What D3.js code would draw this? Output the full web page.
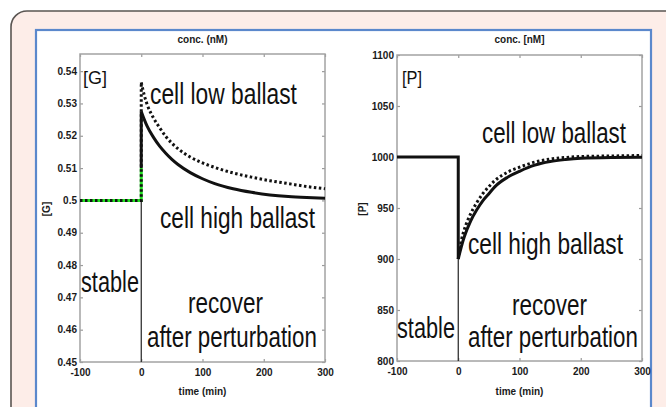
<!DOCTYPE html>
<html>
<head>
<meta charset="utf-8">
<script src="https://cdn.jsdelivr.net/npm/d3@7"></script>
<style>
  html, body { margin: 0; padding: 0; background: #ffffff; }
  svg { display: block; }
</style>
</head>
<body>
<svg id="chart" width="666" height="407"></svg>
<script>
// ---- shared time axis (min) ----
const timeTicks = [-100, 0, 100, 200, 300];
const timeTickLabels = ["-100", "0", "100", "200", "300"];

// ---- [G] panel ----
const gTicks = [0.45, 0.46, 0.47, 0.48, 0.49, 0.5, 0.51, 0.52, 0.53, 0.54];
const gTickLabels = ["0.45", "0.46", "0.47", "0.48", "0.49", "0.5", "0.51", "0.52", "0.53", "0.54"];
const gStableTime = [-100, 0, 0];
const gStableValue = [0.5, 0.5, 0.51];
const gRecoveryTime = [0, 5, 10, 20, 30, 40, 50, 60, 80, 100, 120, 150, 180, 210, 240, 270, 300];
const gLowBallast = [0.5365, 0.5325, 0.5295, 0.5255, 0.5225, 0.5198, 0.5177, 0.5160, 0.5134, 0.5116, 0.5102, 0.5085, 0.5072, 0.5061, 0.5052, 0.5043, 0.5036];
const gHighBallast = [0.5275, 0.5250, 0.5228, 0.5195, 0.5168, 0.5146, 0.5127, 0.5111, 0.5086, 0.5067, 0.5052, 0.5036, 0.5025, 0.5017, 0.5012, 0.5009, 0.5007];

// ---- [P] panel ----
const pTicks = [800, 850, 900, 950, 1000, 1050, 1100];
const pTickLabels = ["800", "850", "900", "950", "1000", "1050", "1100"];
const pStableTime = [-100, 0, 0];
const pStableValue = [1000, 1000, 900];
const pRecoveryTime = [0, 5, 10, 20, 30, 40, 50, 60, 80, 100, 125, 150, 175, 200, 250, 300];
const pLowBallast = [900, 918, 929, 944, 955, 964, 971, 977, 985, 990, 995, 998, 999.5, 1000.5, 1001, 1001.5];
const pHighBallast = [900, 912, 922, 937, 948, 957, 964, 971, 980, 986, 992, 995.5, 997.5, 998.8, 999.6, 999.8];

const svg = d3.select("#chart");

// page frame: rounded card with a white framed panel inside
svg.append("rect").attr("width", 666).attr("height", 407).attr("fill", "#ffffff");
svg.append("rect")
  .attr("x", 11).attr("y", 11).attr("width", 680).attr("height", 430)
  .attr("rx", 16).attr("ry", 16)
  .attr("fill", "#fdede8").attr("stroke", "#5a5552").attr("stroke-width", 1.6);
svg.append("rect")
  .attr("x", 36).attr("y", 30).attr("width", 615).attr("height", 400)
  .attr("fill", "#ffffff").attr("stroke", "#5b88cc").attr("stroke-width", 2.2);

const ANNOT_FONT = "'Liberation Sans', Arial, sans-serif";
const AXIS_FONT = "'Liberation Sans', Arial, sans-serif";

const panels = [
  {
    box: { left: 80, right: 325, top: 54, bottom: 362 },
    yDomain: [0.45, 0.5453], yTicks: gTicks, yTickLabels: gTickLabels,
    title: "conc. (nM)", yLabel: "[G]", yLabelX: 46,
    stableTime: gStableTime, stableValue: gStableValue,
    recTime: gRecoveryTime, low: gLowBallast, high: gHighBallast,
    green: true,
    tag: { text: "[G]", x: 83, y: 84, w: 24 },
    notes: [
      { text: "cell low ballast", x: 150, y: 104, w: 147 },
      { text: "cell high ballast", x: 160, y: 228, w: 155 },
      { text: "stable", x: 81, y: 292, w: 58 },
      { text: "recover", x: 188, y: 313, w: 75 },
      { text: "after perturbation", x: 147, y: 347, w: 170 }
    ]
  },
  {
    box: { left: 397, right: 642, top: 55, bottom: 361 },
    yDomain: [800, 1100], yTicks: pTicks, yTickLabels: pTickLabels,
    title: "conc. [nM]", yLabel: "[P]", yLabelX: 362,
    stableTime: pStableTime, stableValue: pStableValue,
    recTime: pRecoveryTime, low: pLowBallast, high: pHighBallast,
    green: false,
    tag: { text: "[P]", x: 402, y: 84, w: 20 },
    notes: [
      { text: "cell low ballast", x: 482, y: 143, w: 144 },
      { text: "cell high ballast", x: 468, y: 254, w: 155 },
      { text: "stable", x: 397, y: 338, w: 58 },
      { text: "recover", x: 512, y: 315, w: 75 },
      { text: "after perturbation", x: 468, y: 347, w: 170 }
    ]
  }
];

// squeeze a text horizontally to a given width, keeping its height
function condensed(parent, str, x, y, size, width) {
  const t = parent.append("text")
    .attr("font-family", ANNOT_FONT).attr("font-size", size).attr("fill", "#111")
    .text(str);
  const natural = t.node().getComputedTextLength() || width;
  t.attr("transform", `translate(${x},${y}) scale(${width / natural},1)`);
  return t;
}

panels.forEach(p => {
  const b = p.box;
  const x = d3.scaleLinear().domain([-100, 300]).range([b.left, b.right]);
  const y = d3.scaleLinear().domain(p.yDomain).range([b.bottom, b.top]);
  const g = svg.append("g");

  // plot area
  g.append("rect")
    .attr("x", b.left).attr("y", b.top)
    .attr("width", b.right - b.left).attr("height", b.bottom - b.top)
    .attr("fill", "#ffffff");

  // inward ticks on all four sides
  const styleAxis = sel => {
    sel.select(".domain").remove();
    sel.selectAll(".tick line").attr("stroke", "#9a9a9a").attr("stroke-width", 1.2);
    sel.selectAll(".tick text")
      .attr("font-family", AXIS_FONT).attr("font-weight", "bold")
      .attr("font-size", 10).attr("fill", "#1a1a1a");
  };
  g.append("g").attr("transform", `translate(0,${b.bottom})`)
    .call(d3.axisBottom(x).tickValues(timeTicks)
      .tickFormat((d, i) => timeTickLabels[i]).tickSizeInner(-3).tickSizeOuter(0).tickPadding(7))
    .call(styleAxis);
  g.append("g").attr("transform", `translate(0,${b.top})`)
    .call(d3.axisTop(x).tickValues(timeTicks).tickFormat("").tickSizeInner(-3).tickSizeOuter(0))
    .call(styleAxis);
  g.append("g").attr("transform", `translate(${b.left},0)`)
    .call(d3.axisLeft(y).tickValues(p.yTicks)
      .tickFormat((d, i) => p.yTickLabels[i]).tickSizeInner(-3).tickSizeOuter(0).tickPadding(3))
    .call(styleAxis);
  g.append("g").attr("transform", `translate(${b.right},0)`)
    .call(d3.axisRight(y).tickValues(p.yTicks).tickFormat("").tickSizeInner(-3).tickSizeOuter(0))
    .call(styleAxis);

  // axes box
  g.append("rect")
    .attr("x", b.left).attr("y", b.top)
    .attr("width", b.right - b.left).attr("height", b.bottom - b.top)
    .attr("fill", "none").attr("stroke", "#a3a3a3").attr("stroke-width", 1.5);

  // title and axis labels
  g.append("text").attr("x", (b.left + b.right) / 2).attr("y", 43)
    .attr("text-anchor", "middle").attr("font-family", AXIS_FONT)
    .attr("font-weight", "bold").attr("font-size", 10).attr("fill", "#1a1a1a")
    .text(p.title);
  g.append("text").attr("x", (b.left + b.right) / 2).attr("y", 395)
    .attr("text-anchor", "middle").attr("font-family", AXIS_FONT)
    .attr("font-weight", "bold").attr("font-size", 10).attr("fill", "#1a1a1a")
    .text("time (min)");
  g.append("text")
    .attr("transform", `translate(${p.yLabelX},${(b.top + b.bottom) / 2 + 1}) rotate(-90)`)
    .attr("text-anchor", "middle").attr("dy", "0.35em").attr("font-family", AXIS_FONT)
    .attr("font-weight", "bold").attr("font-size", 10).attr("fill", "#1a1a1a")
    .text(p.yLabel);

  const stable = p.stableTime.map((t, i) => [t, p.stableValue[i]]);
  const lowRec = p.recTime.map((t, i) => [t, p.low[i]]);
  const highRec = p.recTime.map((t, i) => [t, p.high[i]]);
  const lineLin = d3.line().x(d => x(d[0])).y(d => y(d[1]));
  const lineSmooth = d3.line().x(d => x(d[0])).y(d => y(d[1])).curve(d3.curveMonotoneX);

  // separator between stable and recovery phases (t = 0)
  g.append("path")
    .attr("d", lineLin([[0, p.yDomain[0]], [0, p.stableValue[1]]]))
    .attr("fill", "none").attr("stroke", "#222").attr("stroke-width", 1.2);

  if (p.green) {
    // stable level (green) with the low-ballast dotted trace over it
    g.append("path").attr("d", lineLin(stable))
      .attr("fill", "none").attr("stroke", "#1fe01f").attr("stroke-width", 3);
    g.append("path")
      .attr("d", lineLin([[p.stableTime[0], p.stableValue[0]], [0, p.stableValue[1]], [0, p.low[0]]]))
      .attr("fill", "none").attr("stroke", "#111").attr("stroke-width", 3)
      .attr("stroke-dasharray", "2.5,2.5");
    g.append("path").attr("d", lineSmooth(lowRec))
      .attr("fill", "none").attr("stroke", "#111").attr("stroke-width", 3)
      .attr("stroke-dasharray", "2.5,2.5");
    // high-ballast jump and decay
    g.append("path").attr("d", lineLin([[0, p.stableValue[2]], [0, p.high[0]]]))
      .attr("fill", "none").attr("stroke", "#111").attr("stroke-width", 3);
    g.append("path").attr("d", lineSmooth(highRec))
      .attr("fill", "none").attr("stroke", "#111").attr("stroke-width", 3);
  } else {
    g.append("path").attr("d", lineSmooth(lowRec))
      .attr("fill", "none").attr("stroke", "#111").attr("stroke-width", 3)
      .attr("stroke-dasharray", "2.5,2.5");
    g.append("path").attr("d", lineLin(stable))
      .attr("fill", "none").attr("stroke", "#111").attr("stroke-width", 3);
    g.append("path").attr("d", lineSmooth(highRec))
      .attr("fill", "none").attr("stroke", "#111").attr("stroke-width", 3);
  }

  // panel tag and annotations (condensed lettering)
  condensed(g, p.tag.text, p.tag.x, p.tag.y, 18, p.tag.w);
  p.notes.forEach(n => condensed(g, n.text, n.x, n.y, 29, n.w));
});
</script>
</body>
</html>
